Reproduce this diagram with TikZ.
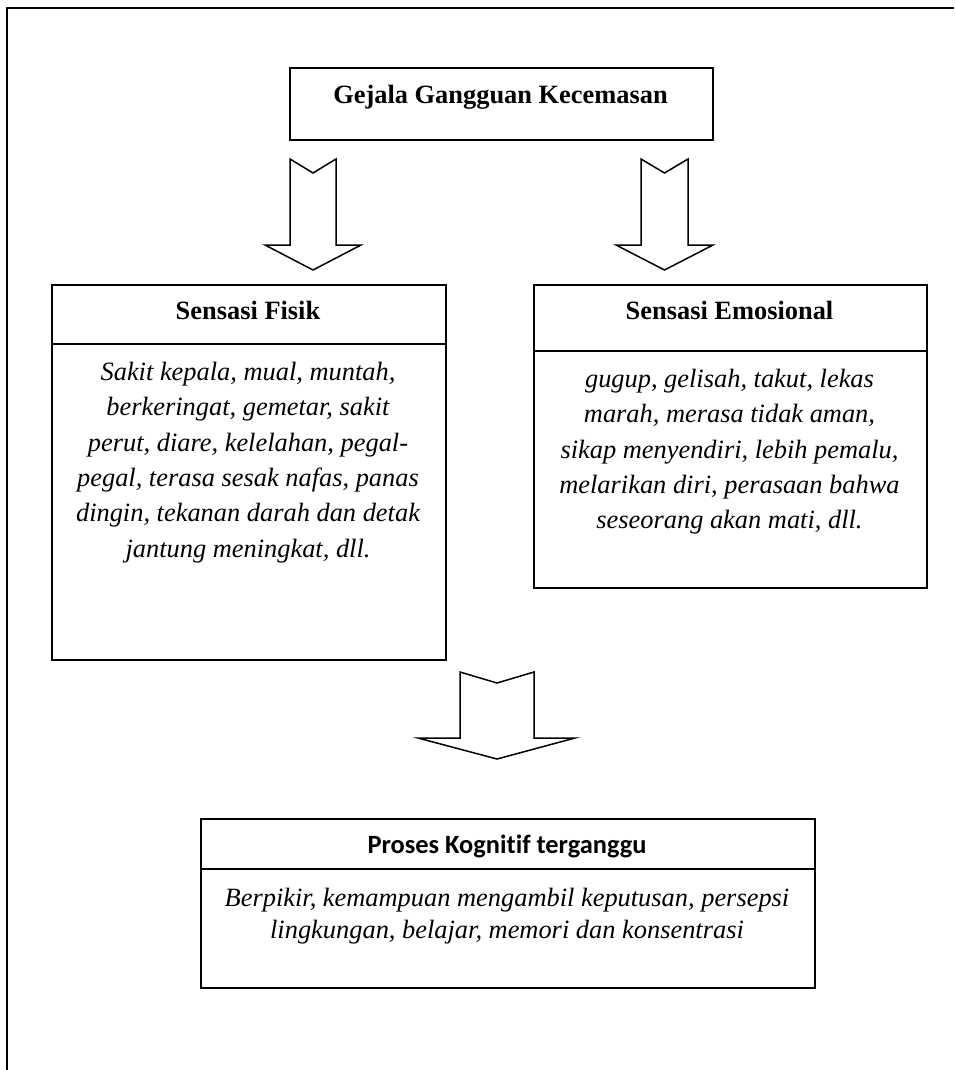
\documentclass[tikz,border=0pt]{standalone}
\usepackage{fontspec}
\setmainfont{Liberation Serif}
\newfontfamily\carlito[Ligatures=NoCommon]{Carlito}
\begin{document}
\begin{tikzpicture}[x=1pt,y=1pt,
  box/.style={draw=black,line width=1.6pt,rectangle,inner sep=0pt,anchor=north west},
  divider/.style={line width=2.2pt},
  frame/.style={line width=2pt},
  blockarrow/.style={draw=black,line width=1.5pt,line join=miter,fill=white},
  head/.style={font=\fontsize{26.4}{35.3}\selectfont\bfseries,anchor=base,inner sep=0pt},
  body/.style={font=\fontsize{26.4}{35.4}\selectfont\itshape,align=center,anchor=north,inner sep=0pt},
  kbody/.style={font=\fontsize{26.4}{32}\selectfont\itshape,align=center,anchor=north,inner sep=0pt}]
\useasboundingbox (0,0) rectangle (954,-1070);
% page frame (top and left edges)
\coordinate (fTL) at (7,-8);
\coordinate (fTR) at (954,-8);
\coordinate (fBL) at (7,-1070);
\draw[frame] (fTR) -- (fTL) -- (fBL);

% top box
\node[box,minimum width=423pt,minimum height=72pt] (top) at (289,-67) {};
\node[head] (toptxt) at (500.5,-103) {Gejala Gangguan Kecemasan};

% left box
\node[box,minimum width=394pt,minimum height=375pt] (fis) at (51,-284) {};
\coordinate (fisdl) at (51,-344);
\coordinate (fisdr) at (445,-344);
\draw[divider] (fisdl) -- (fisdr);
\node[head] (fishead) at (248,-319) {Sensasi Fisik};
\node[body] (fisbody) at (248,-355.3) {\strut Sakit kepala, mual, muntah,\\ berkeringat, gemetar, sakit\\ perut, diare, kelelahan, pegal-\\ pegal, terasa sesak nafas, panas\\ dingin, tekanan darah dan detak\\ jantung meningkat, dll.};

% right box
\node[box,minimum width=393pt,minimum height=303pt] (emo) at (533,-284) {};
\coordinate (emodl) at (533,-351);
\coordinate (emodr) at (926,-351);
\draw[divider] (emodl) -- (emodr);
\node[head] (emohead) at (729.5,-319) {Sensasi Emosional};
\node[body] (emobody) at (729.5,-362.3) {\strut gugup, gelisah, takut, lekas\\ marah, merasa tidak aman,\\ sikap menyendiri, lebih pemalu,\\ melarikan diri, perasaan bahwa\\ seseorang akan mati, dll.};

% bottom box
\node[box,minimum width=614pt,minimum height=169pt] (kog) at (200,-818) {};
\coordinate (kogdl) at (200,-869);
\coordinate (kogdr) at (814,-869);
\draw[divider] (kogdl) -- (kogdr);
\node[anchor=base,inner sep=0pt,font=\carlito\bfseries\fontsize{26.4}{31}\selectfont] (koghead) at (507,-853) {Proses Kognitif terganggu};
\node[kbody] (kogbody) at (507,-883.6) {\strut Berpikir, kemampuan mengambil keputusan, persepsi\\ lingkungan, belajar, memori dan konsentrasi};

% block arrows
\draw[blockarrow] (290,-159) -- (313,-173) -- (336,-159) -- (336,-245) -- (361,-245) -- (313,-270) -- (265,-245) -- (290,-245) -- cycle;
\draw[blockarrow] (641,-159) -- (664.5,-173) -- (688,-159) -- (688,-245) -- (713,-245) -- (664.5,-270) -- (616,-245) -- (641,-245) -- cycle;
\draw[blockarrow] (460,-672) -- (497,-683) -- (534,-672) -- (534,-738) -- (575,-738) -- (497,-759) -- (418,-738) -- (460,-738) -- cycle;
\end{tikzpicture}
\end{document}
